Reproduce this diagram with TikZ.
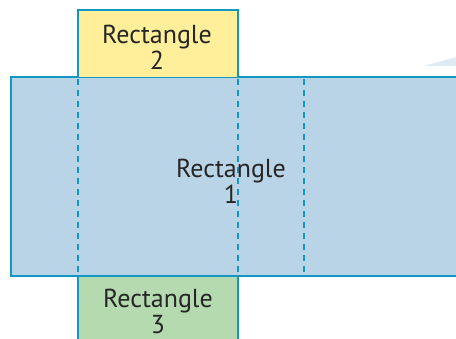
\documentclass[tikz,border=0pt]{standalone}
\usepackage{fontspec}
\setmainfont{PT Sans}
\definecolor{edge}{RGB}{20,150,195}
\definecolor{bluef}{RGB}{185,212,230}
\definecolor{yell}{RGB}{255,239,154}
\definecolor{grn}{RGB}{181,218,175}
\definecolor{wedge}{RGB}{222,234,244}
\tikzset{
  face/.style={draw=edge, line width=1.9pt},
  fold/.style={draw=edge, line width=1.7pt, dash pattern=on 6pt off 5pt},
  lab/.style={font=\fontsize{26}{26}\selectfont, text=black!85, align=center, inner sep=0pt}
}
\begin{document}
\begin{tikzpicture}[x=1pt,y=-1pt]
\useasboundingbox (0,0) rectangle (456,339);
\begin{scope}
\clip (0,0) rectangle (456,339);
\fill[wedge] (424,66) -- (460,56) -- (460,66) -- cycle;
\path[face, fill=bluef] (470,77) -- (11,77) -- (11,276) -- (470,276);
\path[face, fill=yell] (78,77) -- (78,10) -- (238,10) -- (238,77);
\path[face, fill=grn] (78,345) -- (78,276) -- (238,276) -- (238,345);
\coordinate (a1) at (78,79); \coordinate (a2) at (78,274);
\coordinate (b1) at (238,79); \coordinate (b2) at (238,274);
\coordinate (c1) at (304,79); \coordinate (c2) at (304,274);
\draw[fold] (a1) -- (a2);
\draw[fold] (b1) -- (b2);
\draw[fold] (c1) -- (c2);
\node[lab] (r1) at (231,181) {Rectangle\\1};
\node[lab] (r2) at (157,47) {Rectangle\\2};
\node[lab] (r3) at (158,311) {Rectangle\\3};
\end{scope}
\end{tikzpicture}
\end{document}
